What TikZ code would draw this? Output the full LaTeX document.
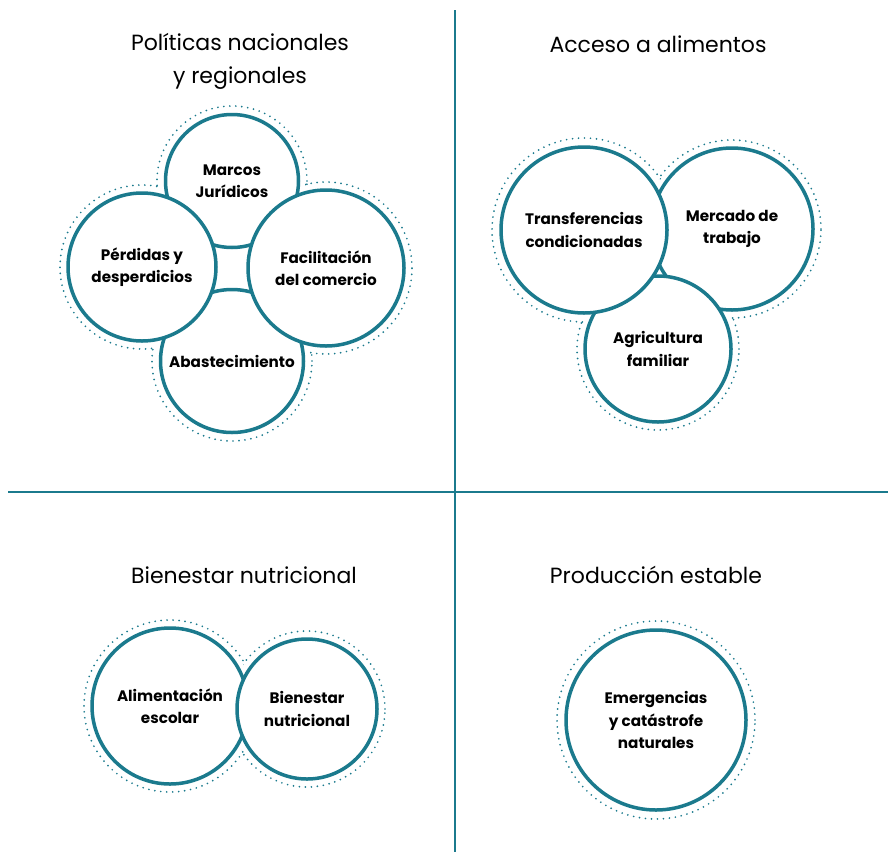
\documentclass[tikz,border=0pt]{standalone}
\usepackage{fontspec}
\setmainfont{Poppins}
\usepackage{xcolor}
\usetikzlibrary{backgrounds}
\definecolor{petrol}{HTML}{1B7A8D}

\begin{document}
\begin{tikzpicture}[x=1pt, y=-1pt,
	topic/.style={circle, draw=petrol, line width=3.5pt, fill=white, align=center, inner sep=0pt,
		font=\fontsize{15.2}{22.5}\selectfont\bfseries},
	ring/.style={draw=petrol, line width=1.9pt, dash pattern=on 0pt off 6pt, line cap=round},
	halo/.style={fill=white},
	heading/.style={align=center, font=\fontsize{22}{33}\selectfont},
	divider/.style={draw=petrol, line width=2pt}]
	\useasboundingbox (0,0) rectangle (890,854);
	% quadrant lines
	\coordinate (vtop) at (455,10);
	\coordinate (vbot) at (455,852);
	\coordinate (hleft) at (8,492);
	\coordinate (hright) at (888,492);
	\draw[divider] (vtop) -- (vbot);
	\draw[divider] (hleft) -- (hright);
	% headings
	\node[heading] (politicas) at (240,61) {Políticas nacionales\\y regionales};
	\node[heading] (acceso) at (658,44) {Acceso a alimentos};
	\node[heading] (bienestar) at (244,575) {Bienestar nutricional};
	\node[heading] (produccion) at (656,575) {Producción estable};
	% politicas
	\node[topic, minimum size=133pt] (marcos) at (232,181) {Marcos\\Jurídicos};
	\node[topic, minimum size=143pt] (abast) at (232,361) {Abastecimiento};
	\node[topic, minimum size=148pt] (perdidas) at (142,267) {Pérdidas y\\desperdicios};
	\node[topic, minimum size=156pt] (facil) at (326,268) {Facilitación\\del comercio};
	\coordinate (gap) at (232,268);
	% acceso
	\node[topic, minimum size=162pt] (mercado) at (732,229) {Mercado de\\trabajo};
	\node[topic, minimum size=146pt] (agri) at (658,349) {Agricultura\\familiar};
	\node[topic, minimum size=166pt] (transf) at (584,230) {Transferencias\\condicionadas};
	% bienestar
	\node[topic, minimum size=156pt] (alim) at (170,706) {Alimentación\\escolar};
	\node[topic, minimum size=140pt] (bien) at (307,709) {Bienestar\\nutricional};
	% produccion
	\node[topic, minimum size=180pt] (emerg) at (656,720) {Emergencias\\y catástrofe\\naturales};
	% dotted outlines
	\begin{pgfonlayer}{background}
		\foreach \nd/\r in {marcos/75, abast/80, perdidas/82, facil/86, mercado/89, agri/81, transf/92, alim/86, bien/78, emerg/99}
			\draw[ring] (\nd.center) circle (\r pt);
		\foreach \nd/\r in {marcos/75, abast/80, perdidas/82, facil/86, mercado/89, agri/81, transf/92, alim/86, bien/78, emerg/99}
			\fill[halo] (\nd.center) circle (\r pt-2pt);
		\fill[halo] (gap) circle (24pt);
	\end{pgfonlayer}
\end{tikzpicture}
\end{document}
